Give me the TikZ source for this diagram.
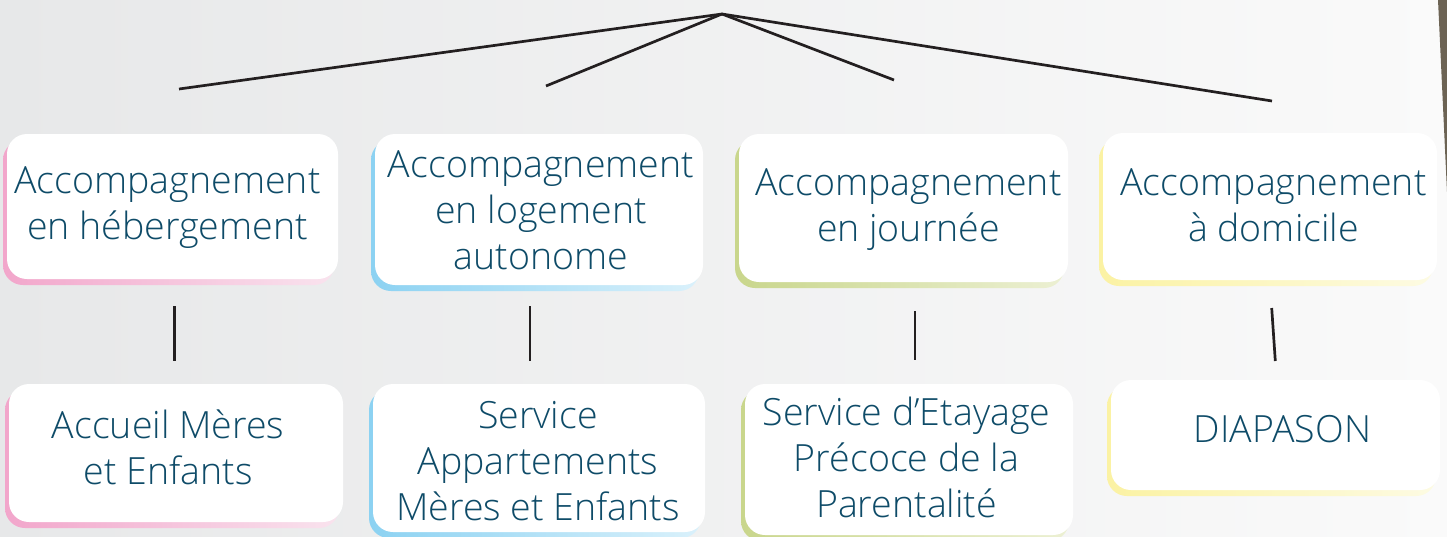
\documentclass[tikz,border=0pt]{standalone}
\usepackage{fontspec}
\setmainfont{Open Sans}[UprightFont={* Light}]
\usetikzlibrary{shadows}
\definecolor{txt}{HTML}{0E4B68}
\definecolor{ln}{HTML}{231F20}
\definecolor{bgl}{HTML}{E7E8E9}
\definecolor{bgr}{HTML}{FAFAFA}
\definecolor{pinkA}{HTML}{F2A6CB}
\definecolor{pinkB}{HTML}{F9E3EE}
\definecolor{blueA}{HTML}{8CD2F2}
\definecolor{blueB}{HTML}{DAF1FB}
\definecolor{greenA}{HTML}{C9D68C}
\definecolor{greenB}{HTML}{ECF0D3}
\definecolor{yellA}{HTML}{FBF2A3}
\definecolor{yellB}{HTML}{FDFBE3}
\definecolor{edge}{HTML}{6C6354}
\tikzset{
  box/.style={rounded corners=20pt, fill=white, inner sep=0pt, draw=none},
  shpink/.style={general shadow={shadow xshift=-4pt, shadow yshift=-6pt, left color=pinkA, right color=pinkB}},
  shblue/.style={general shadow={shadow xshift=-4pt, shadow yshift=-6pt, left color=blueA, right color=blueB}},
  shgreen/.style={general shadow={shadow xshift=-4pt, shadow yshift=-6pt, left color=greenA, right color=greenB}},
  shyell/.style={general shadow={shadow xshift=-4pt, shadow yshift=-6pt, left color=yellA, right color=yellB}},
  lbl/.style={text=txt, align=center, inner sep=0pt, font=\fontsize{37.5}{46}\selectfont},
  conn/.style={draw=ln, line width=2.7pt}
}
\begin{document}
\begin{tikzpicture}[x=1pt,y=-1pt]
\useasboundingbox (0,0) rectangle (1447,536);
\shade[left color=bgl, right color=bgr] (0,0) rectangle (1447,536);
\fill[edge] (1438,0) -- (1447,0) -- (1447,192) -- cycle;

% top-level fan
\coordinate (apex) at (722,14);
\coordinate (e1) at (179,89);
\coordinate (e2) at (546,86);
\coordinate (e3) at (894,80);
\coordinate (e4) at (1272,101);
\draw[conn] (apex) -- (e1);
\draw[conn] (apex) -- (e2);
\draw[conn] (apex) -- (e3);
\draw[conn] (apex) -- (e4);

% boxes, top row
\node[box, shpink, minimum width=331pt, minimum height=145pt] (b1) at (172.5,206.5) {};
\node[box, shblue, minimum width=328pt, minimum height=151pt] (b2) at (539,209.5) {};
\node[box, shgreen, minimum width=329pt, minimum height=148pt] (b3) at (903.5,208) {};
\node[box, shyell, minimum width=334pt, minimum height=147pt] (b4) at (1270,206.5) {};
% boxes, bottom row
\node[box, shpink, minimum width=334pt, minimum height=138pt] (b5) at (176,453) {};
\node[box, shblue, minimum width=332pt, minimum height=148pt] (b6) at (539,458) {};
\node[box, shgreen, minimum width=328pt, minimum height=151pt] (b7) at (909,459.5) {};
\node[box, shyell, minimum width=329pt, minimum height=110pt] (b8) at (1275.5,435) {};

% labels
\node[lbl] (t1) at (167.5,208) {Accompagnement\\en hébergement};
\node[lbl] (t2) at (541,210) {Accompagnement\\en logement\\autonome};
\node[lbl] (t3) at (908.5,210) {Accompagnement\\en journée};
\node[lbl] (t4) at (1273.5,205) {Accompagnement\\à domicile};
\node[lbl] (t5) at (168,447.5) {Accueil Mères\\et Enfants};
\node[lbl] (t6) at (538,461.5) {Service\\Appartements\\Mères et Enfants};
\node[lbl] (t7) at (906.5,457.5) {Service d’Etayage\\Précoce de la\\Parentalité};
\node[lbl] (t8) at (1282.5,429) {DIAPASON};

% vertical connectors
\coordinate (v1a) at (174.5,306); \coordinate (v1b) at (174.5,361);
\coordinate (v2a) at (530,306);   \coordinate (v2b) at (530,361);
\coordinate (v3a) at (915,311);   \coordinate (v3b) at (915,360);
\coordinate (v4a) at (1271.7,308); \coordinate (v4b) at (1275.3,361);
\draw[conn] (v1a) -- (v1b);
\draw[conn] (v2a) -- (v2b);
\draw[conn] (v3a) -- (v3b);
\draw[conn] (v4a) -- (v4b);
\end{tikzpicture}
\end{document}
